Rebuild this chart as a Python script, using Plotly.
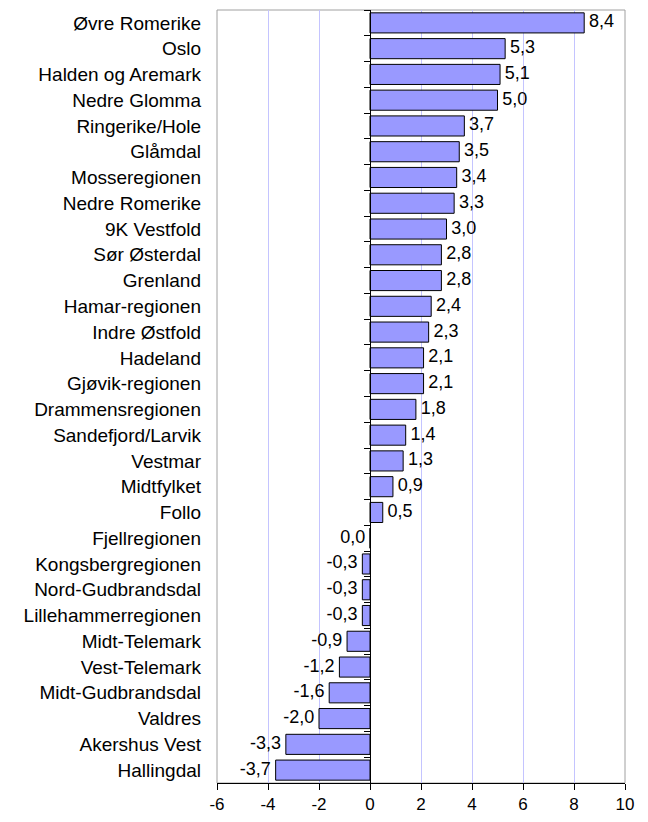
import plotly.graph_objects as go

regions = ["Øvre Romerike", "Oslo", "Halden og Aremark", "Nedre Glomma", "Ringerike/Hole",
           "Glåmdal", "Mosseregionen", "Nedre Romerike", "9K Vestfold", "Sør Østerdal",
           "Grenland", "Hamar-regionen", "Indre Østfold", "Hadeland", "Gjøvik-regionen",
           "Drammensregionen", "Sandefjord/Larvik", "Vestmar", "Midtfylket", "Follo",
           "Fjellregionen", "Kongsbergregionen", "Nord-Gudbrandsdal", "Lillehammerregionen",
           "Midt-Telemark", "Vest-Telemark", "Midt-Gudbrandsdal", "Valdres", "Akershus Vest",
           "Hallingdal"]
values = [8.4, 5.3, 5.1, 5.0, 3.7, 3.5, 3.4, 3.3, 3.0, 2.8, 2.8, 2.4, 2.3, 2.1, 2.1,
          1.8, 1.4, 1.3, 0.9, 0.5, 0.0, -0.3, -0.3, -0.3, -0.9, -1.2, -1.6, -2.0, -3.3, -3.7]
x_ticks = [-6, -4, -2, 0, 2, 4, 6, 8, 10]

FONT = "Liberation Sans, Arial, sans-serif"
x_min, x_max = x_ticks[0], x_ticks[-1]
n = len(regions)

labels = [f"{v:.1f}".replace(".", ",") for v in values]
label_pos = ["middle right" if v > 0 else "middle left" for v in values]

fig = go.Figure()
fig.add_trace(go.Bar(
    x=values, y=regions, orientation="h",
    marker=dict(color="#9999FF", line=dict(color="#000000", width=1)),
    hoverinfo="skip", showlegend=False,
))
# value labels (invisible marker gives the gap between bar end and text)
fig.add_trace(go.Scatter(
    x=values, y=regions, mode="markers+text", text=labels, textposition=label_pos,
    marker=dict(size=6, opacity=0),
    textfont=dict(family=FONT, size=18, color="#000000"),
    cliponaxis=False, hoverinfo="skip", showlegend=False,
))
# invisible trace carrying the category axis drawn at x = 0
fig.add_trace(go.Scatter(
    x=[0] * n, y=regions, yaxis="y2", mode="markers",
    marker=dict(opacity=0), hoverinfo="skip", showlegend=False,
))

zero_pos = (0 - x_min) / (x_max - x_min)
y_range = [n - 0.5, -0.5]

fig.update_layout(
    width=648, height=822,
    margin=dict(l=217, r=23, t=10, b=39, autoexpand=False),
    paper_bgcolor="white", plot_bgcolor="white",
    bargap=0.22,
    font=dict(family=FONT, size=17, color="#000000"),
    xaxis=dict(
        range=[x_min, x_max], tickvals=x_ticks, ticktext=[str(t) for t in x_ticks],
        showgrid=True, gridcolor="#C4C4FF", gridwidth=1, zeroline=False,
        showline=True, linecolor="#000000", linewidth=1,
        ticks="outside", ticklen=6, tickcolor="#000000",
        tickfont=dict(family=FONT, size=17), automargin=False,
    ),
    yaxis=dict(
        type="category", categoryorder="array", categoryarray=regions,
        range=y_range, showgrid=False, zeroline=False,
        showline=False, ticks="", tickfont=dict(family=FONT, size=19),
        ticklabelstandoff=15, automargin=False,
    ),
    yaxis2=dict(
        type="category", categoryorder="array", categoryarray=regions,
        range=y_range,
        overlaying="y", anchor="free", position=zero_pos, side="left",
        showgrid=False, zeroline=False, showticklabels=False,
        showline=True, linecolor="#000000", linewidth=1,
        ticks="outside", ticklen=6, tickcolor="#000000", tickson="boundaries",
        automargin=False,
    ),
    shapes=[dict(type="rect", xref="paper", yref="paper", x0=0, x1=1, y0=0, y1=1,
                 line=dict(color="#A0A0A0", width=1), layer="below")],
)

fig.write_html("out.html", config={"displayModeBar": False},
               post_script="document.body.style.margin='0';")
